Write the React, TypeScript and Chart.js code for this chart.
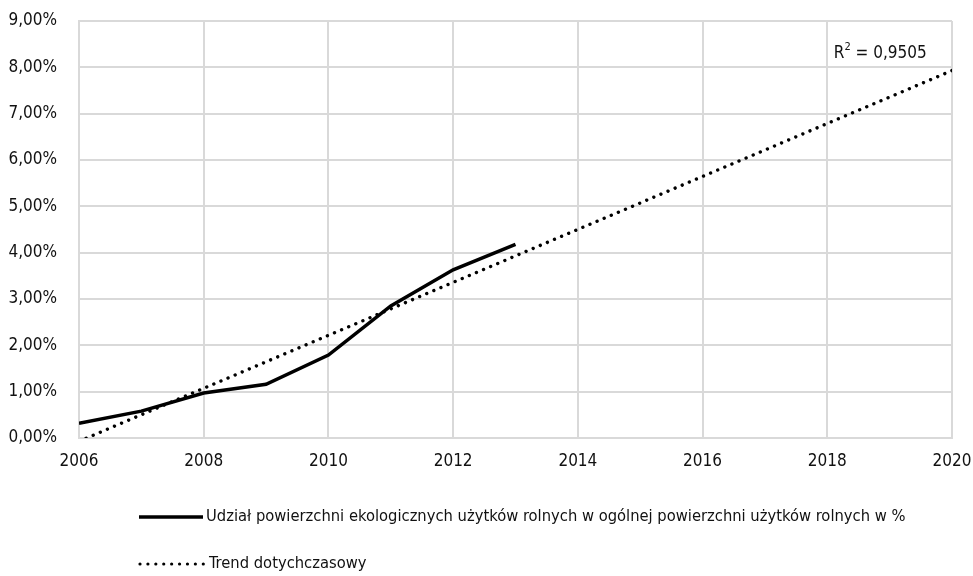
import React, { useEffect, useRef } from "react";
import { Chart, registerables } from "chart.js";

Chart.register(...registerables);

const FONT = "'Liberation Sans Narrow', 'DejaVu Sans Condensed', 'Roboto Condensed', 'Liberation Sans', sans-serif";

const years = [2006, 2007, 2008, 2009, 2010, 2011, 2012, 2013];
const shareValues = [0.32, 0.58, 0.97, 1.16, 1.79, 2.85, 3.63, 4.18];
const trendYears = [2006, 2020];
const trendValues = [-0.07, 7.93];
const seriesLabel = "Udział powierzchni ekologicznych użytków rolnych w ogólnej powierzchni użytków rolnych w %";
const trendLabel = "Trend dotychczasowy";
const r2Text = "0,9505";
const r2Pos = { x: 2018.85, y: 8.3 };
const xMin = 2006, xMax = 2020, xStep = 2;
const yMin = 0, yMax = 9, yStep = 1;

const zeroPad = (s: any) => {
  s.paddingTop = 0;
  s.paddingBottom = 0;
  s.paddingLeft = 0;
  s.paddingRight = 0;
};

const overlayPlugin = {
  id: "overlay",
  afterDraw(chart: any) {
    const ctx = chart.ctx;
    ctx.save();
    ctx.fillStyle = "#111";
    ctx.font = `16.4px ${FONT}`;
    ctx.textBaseline = "middle";
    ctx.textAlign = "left";
    // legend row 1
    ctx.strokeStyle = "#000";
    ctx.lineWidth = 3.5;
    ctx.lineCap = "butt";
    ctx.beginPath();
    ctx.moveTo(139, 517);
    ctx.lineTo(203, 517);
    ctx.stroke();
    ctx.fillText(seriesLabel, 206, 517);
    // legend row 2
    ctx.lineWidth = 3.2;
    ctx.lineCap = "round";
    ctx.setLineDash([0.01, 7.9]);
    ctx.beginPath();
    ctx.moveTo(140, 564);
    ctx.lineTo(204, 564);
    ctx.stroke();
    ctx.setLineDash([]);
    ctx.fillText(trendLabel, 209, 564);
    // R^2 label
    const cx = chart.scales.x.getPixelForValue(r2Pos.x);
    const cy = chart.scales.y.getPixelForValue(r2Pos.y);
    const main = " = " + r2Text;
    ctx.font = `17px ${FONT}`;
    const wR = ctx.measureText("R").width;
    const wM = ctx.measureText(main).width;
    ctx.font = `11px ${FONT}`;
    const wS = ctx.measureText("2").width;
    const total = wR + wS + wM;
    let x0 = cx - total / 2;
    ctx.font = `17px ${FONT}`;
    ctx.fillText("R", x0, cy);
    ctx.font = `11px ${FONT}`;
    ctx.fillText("2", x0 + wR, cy - 6);
    ctx.font = `17px ${FONT}`;
    ctx.fillText(main, x0 + wR + wS, cy);
    ctx.restore();
  },
};

export default function App() {
  const ref = useRef<HTMLCanvasElement>(null);
  useEffect(() => {
    const chart = new Chart(ref.current as HTMLCanvasElement, {
      type: "line",
      data: {
        datasets: [
          {
            label: seriesLabel,
            data: years.map((y, i) => ({ x: y, y: shareValues[i] })),
            borderColor: "#000",
            borderWidth: 3.5,
            pointRadius: 0,
            tension: 0,
            fill: false,
          },
          {
            label: trendLabel,
            data: trendYears.map((y, i) => ({ x: y, y: trendValues[i] })),
            borderColor: "#000",
            borderWidth: 3.4,
            borderDash: [0.01, 7.7],
            borderCapStyle: "round",
            pointRadius: 0,
            fill: false,
          },
        ],
      },
      options: {
        animation: false,
        responsive: false,
        maintainAspectRatio: false,
        layout: { padding: { left: 0, right: 21, top: 21, bottom: 98 } },
        plugins: { legend: { display: false }, tooltip: { enabled: false } },
        scales: {
          x: {
            type: "linear",
            min: xMin,
            max: xMax,
            ticks: {
              stepSize: xStep,
              callback: (v: any) => String(v),
              color: "#111",
              font: { family: FONT, size: 17 },
              padding: 13,
              maxRotation: 0,
            },
            grid: { color: "#d9d9d9", lineWidth: 2, drawTicks: false },
            border: { color: "#d9d9d9", width: 2 },
            afterFit: (s: any) => { s.height = 40; zeroPad(s); },
          },
          y: {
            min: yMin,
            max: yMax,
            ticks: {
              stepSize: yStep,
              callback: (v: any) => Number(v).toFixed(2).replace(".", ",") + "%",
              color: "#111",
              font: { family: FONT, size: 17 },
              padding: 22,
            },
            grid: { color: "#d9d9d9", lineWidth: 2, drawTicks: false },
            border: { color: "#d9d9d9", width: 2 },
            afterFit: (s: any) => { s.width = 79; zeroPad(s); },
          },
        },
      },
      plugins: [overlayPlugin],
    } as any);
    return () => chart.destroy();
  }, []);
  return (
    <div style={{ position: "fixed", left: 0, top: 0, width: 973, height: 576, background: "#fff" }}>
      <canvas ref={ref} width={973} height={576} style={{ width: 973, height: 576 }} />
    </div>
  );
}
